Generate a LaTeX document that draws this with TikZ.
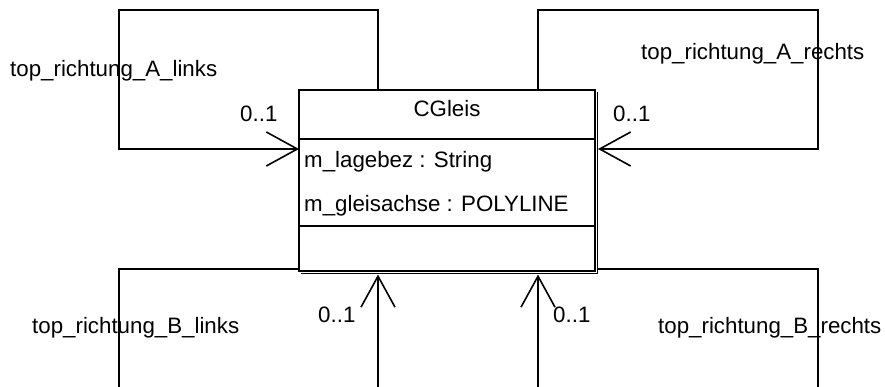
\documentclass[tikz,border=0pt]{standalone}
\usepackage{fontspec}
\setmainfont{Liberation Sans}
\usetikzlibrary{arrows.meta,calc}
\tikzset{
  umlline/.style={line width=1.6pt, line join=miter},
  assoc/.style={umlline, -{Straight Barb[length=31pt,width=34pt]}},
  lbl/.style={inner sep=0pt, anchor=base west, font=\fontsize{22.3}{26}\selectfont},
}
\begin{document}
\begin{tikzpicture}[x=1pt,y=-1pt]
\path[use as bounding box] (0,0) rectangle (885,387);
\clip (0,0) rectangle (885,387);
\fill[white] (0,0) rectangle (885,387);
% class box
\node[draw, umlline, anchor=north west, minimum width=296pt, minimum height=181pt, inner sep=0pt, outer sep=0pt] (cls) at (299,90) {};
\draw[line width=0.9pt] ([xshift=2.7pt,yshift=-2pt]cls.north east) -- ([xshift=2.7pt,yshift=-2.2pt]cls.south east) -- ([xshift=2pt,yshift=-2.2pt]cls.south west);
\draw[umlline] ([yshift=-49pt]cls.north west) -- ([yshift=-49pt]cls.north east);
\draw[umlline] ([yshift=-136pt]cls.north west) -- ([yshift=-136pt]cls.north east);
\node[lbl, anchor=base] (cname) at (447,117) {CGleis};
\node[lbl] (attr1) at (304,168) {m\_lagebez : String};
\node[lbl] (attr2) at (304,212) {m\_gleisachse : POLYLINE};
% helper coordinates
\coordinate (yA) at (0,149);
\coordinate (yB) at (0,269);
\coordinate (tlc) at (119,10);
\coordinate (trc) at (818,10);
\coordinate (blc) at (119,400);
\coordinate (brc) at (818,400);
% top left loop
\draw[assoc] ([xshift=79pt]cls.north west) |- (tlc) |- (cls.west |- yA);
% top right loop
\draw[assoc] ([xshift=-57pt]cls.north east) |- (trc) |- ([xshift=3pt]cls.east |- yA);
% bottom left loop
\draw[assoc] (cls.west |- yB) -| (blc) -| ([xshift=79pt,yshift=-3.5pt]cls.south west);
% bottom right loop
\draw[assoc] ([xshift=3pt]cls.east |- yB) -| (brc) -| ([xshift=-57pt,yshift=-3.5pt]cls.south east);
% labels
\node[lbl] (ltl) at (10,77) {top\_richtung\_A\_links};
\node[lbl] (mtl) at (240,122) {0..1};
\node[lbl] (ltr) at (641,60) {top\_richtung\_A\_rechts};
\node[lbl] (mtr) at (613,122) {0..1};
\node[lbl] (lbl) at (32,333) {top\_richtung\_B\_links};
\node[lbl] (mbl) at (318,322) {0..1};
\node[lbl] (lbr) at (658,333) {top\_richtung\_B\_rechts};
\node[lbl] (mbr) at (553,322) {0..1};
\end{tikzpicture}
\end{document}
